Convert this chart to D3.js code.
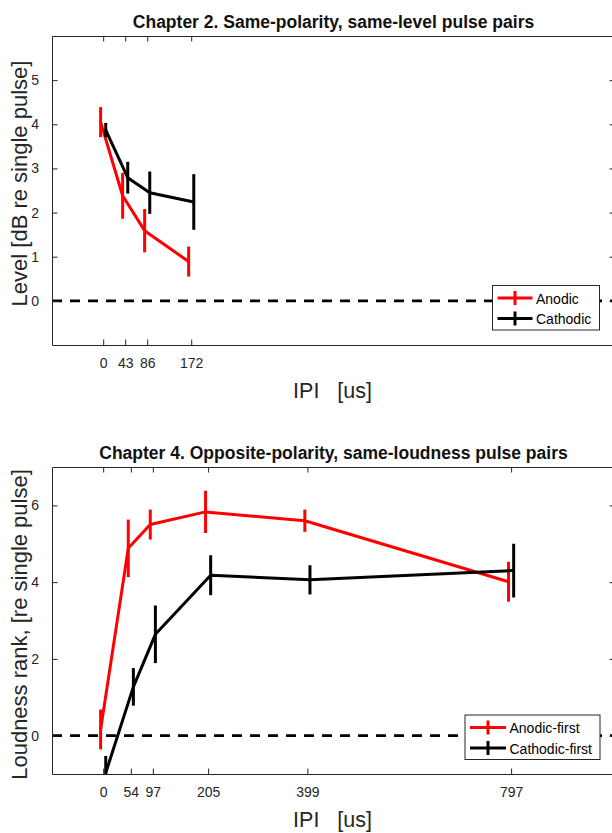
<!DOCTYPE html>
<html>
<head>
<meta charset="utf-8">
<script src="https://cdn.jsdelivr.net/npm/d3@7"></script>
<style>
  html, body { margin: 0; padding: 0; background: #fff; }
  svg { display: block; font-family: "Liberation Sans", Arial, Helvetica, sans-serif; }
</style>
</head>
<body>
<svg id="fig" width="612" height="833"></svg>
<script>
// Chapter 2: same-polarity, same-level pulse pairs
const ipiCh2 = [0, 43, 86, 172];
const ch2Anodic = [4.05, 2.38, 1.59, 0.89];
const ch2AnodicErr = [0.34, 0.52, 0.49, 0.34];
const ch2Cathodic = [3.87, 2.79, 2.45, 2.24];
const ch2CathodicErr = [0.16, 0.36, 0.48, 0.63];
const ch2YTicks = [0, 1, 2, 3, 4, 5];

// Chapter 4: opposite-polarity, same-loudness pulse pairs
const ipiCh4 = [0, 54, 97, 205, 399, 797];
const ch4Anodic = [0.16, 4.88, 5.50, 5.83, 5.60, 4.01];
const ch4AnodicErr = [0.52, 0.75, 0.39, 0.55, 0.29, 0.52];
const ch4Cathodic = [-0.97, 1.27, 2.64, 4.18, 4.06, 4.30];
const ch4CathodicErr = [0.44, 0.49, 0.75, 0.52, 0.38, 0.70];
const ch4YTicks = [0, 2, 4, 6];

// small horizontal jitter (us) so the two series' error bars don't overlap
const jitter = { red: -5, black: 5 };

const svg = d3.select("#fig");
const axisColor = "#262626";
const left = 52, right = 615;

function panel(cfg) {
  const g = svg.append("g");
  const x = d3.scaleLinear().domain([-100, 1000]).range([left, right]);
  const y = d3.scaleLinear().domain(cfg.yDomain).range([cfg.bottom, cfg.top]);
  const clipId = "clip-" + cfg.id;

  g.append("clipPath").attr("id", clipId)
    .append("rect").attr("x", left).attr("y", cfg.top)
    .attr("width", right - left).attr("height", cfg.bottom - cfg.top);

  // title
  g.append("text")
    .attr("x", (left + right) / 2).attr("y", cfg.top - 8)
    .attr("text-anchor", "middle")
    .style("font-weight", "bold").style("font-size", "17.5px").style("fill", "#111")
    .text(cfg.title);

  const plot = g.append("g").attr("clip-path", `url(#${clipId})`);

  // zero reference line
  plot.append("line")
    .attr("x1", left).attr("x2", right)
    .attr("y1", y(0)).attr("y2", y(0))
    .attr("stroke", "#000").attr("stroke-width", 2.6)
    .attr("stroke-dasharray", "10,8");

  const line = d3.line().x(d => x(d.ipi)).y(d => y(d.v));

  cfg.series.forEach(s => {
    const pts = cfg.ipi.map((ipi, i) => ({ ipi: ipi + s.dx, v: s.values[i], e: s.err[i] }));
    plot.append("path").datum(pts)
      .attr("d", line).attr("fill", "none")
      .attr("stroke", s.color).attr("stroke-width", 3)
      .attr("stroke-linejoin", "round");
    plot.selectAll(null).data(pts).enter().append("line")
      .attr("x1", d => x(d.ipi)).attr("x2", d => x(d.ipi))
      .attr("y1", d => y(d.v - d.e)).attr("y2", d => y(d.v + d.e))
      .attr("stroke", s.color).attr("stroke-width", 3);
  });

  // axes box with inward ticks on all four sides
  const tickLen = 5.5;
  const fmt = d3.format("d");
  const axB = g.append("g").attr("transform", `translate(0,${cfg.bottom})`)
    .call(d3.axisBottom(x).tickValues(cfg.ipi).tickFormat(fmt).tickSizeInner(-tickLen).tickSizeOuter(0).tickPadding(13));
  const axT = g.append("g").attr("transform", `translate(0,${cfg.top})`)
    .call(d3.axisTop(x).tickValues(cfg.ipi).tickSizeInner(-tickLen).tickSizeOuter(0).tickFormat(""));
  const axL = g.append("g").attr("transform", `translate(${left},0)`)
    .call(d3.axisLeft(y).tickValues(cfg.yTicks).tickFormat(fmt).tickSizeInner(-tickLen).tickSizeOuter(0).tickPadding(13));
  const axR = g.append("g").attr("transform", `translate(${right},0)`)
    .call(d3.axisRight(y).tickValues(cfg.yTicks).tickSizeInner(-tickLen).tickSizeOuter(0).tickFormat(""));
  [axB, axT, axL, axR].forEach(a => {
    a.select(".domain").attr("stroke", axisColor).attr("stroke-width", 1);
    a.selectAll(".tick line").attr("stroke", axisColor).attr("stroke-width", 1);
    a.selectAll(".tick text").attr("fill", axisColor)
      .style("font-size", "14px").style("font-family", "Liberation Sans, Arial, sans-serif");
  });

  // axis labels
  g.append("text")
    .attr("x", (left + right) / 2 - 1).attr("y", cfg.bottom + 53)
    .attr("text-anchor", "middle").style("font-size", "21.5px").style("fill", axisColor)
    .style("white-space", "pre").attr("xml:space", "preserve")
    .text("IPI   [us]");
  g.append("text")
    .attr("transform", `translate(26.5,${(cfg.top + cfg.bottom) / 2 + cfg.yLabelShift}) rotate(-90)`)
    .attr("text-anchor", "middle").style("font-size", "22px").style("fill", axisColor)
    .text(cfg.yLabel);

  // legend
  const L = cfg.legend;
  const lg = g.append("g");
  lg.append("rect")
    .attr("x", L.x).attr("y", L.y).attr("width", L.w).attr("height", L.h)
    .attr("fill", "#fff").attr("stroke", axisColor).attr("stroke-width", 1);
  cfg.series.forEach((s, i) => {
    const cy = L.y + L.row0 + i * L.rowGap;
    const x1 = L.x + 5, x2 = L.x + 5 + L.sample;
    lg.append("line").attr("x1", x1).attr("x2", x2).attr("y1", cy).attr("y2", cy)
      .attr("stroke", s.color).attr("stroke-width", 3);
    lg.append("line").attr("x1", (x1 + x2) / 2).attr("x2", (x1 + x2) / 2)
      .attr("y1", cy - 7).attr("y2", cy + 7)
      .attr("stroke", s.color).attr("stroke-width", 3);
    lg.append("text").attr("x", x2 + 3.5).attr("y", cy + 5.5)
      .style("font-size", "14px").style("fill", "#000")
      .text(s.name);
  });
}

panel({
  id: "ch2",
  title: "Chapter 2. Same-polarity, same-level pulse pairs",
  top: 36, bottom: 345, yDomain: [-1, 6], yTicks: ch2YTicks,
  ipi: ipiCh2,
  yLabel: "Level [dB re single pulse]", yLabelShift: -7,
  series: [
    { name: "Anodic", color: "#ff0000", values: ch2Anodic, err: ch2AnodicErr, dx: jitter.red },
    { name: "Cathodic", color: "#000000", values: ch2Cathodic, err: ch2CathodicErr, dx: jitter.black }
  ],
  legend: { x: 492.5, y: 285.5, w: 107, h: 44.5, row0: 12.5, rowGap: 20.5, sample: 35 }
});

panel({
  id: "ch4",
  title: "Chapter 4. Opposite-polarity, same-loudness pulse pairs",
  top: 467, bottom: 774, yDomain: [-1, 7], yTicks: ch4YTicks,
  ipi: ipiCh4,
  yLabel: "Loudness rank, [re single pulse]", yLabelShift: 4,
  series: [
    { name: "Anodic-first", color: "#ff0000", values: ch4Anodic, err: ch4AnodicErr, dx: jitter.red },
    { name: "Cathodic-first", color: "#000000", values: ch4Cathodic, err: ch4CathodicErr, dx: jitter.black }
  ],
  legend: { x: 465, y: 715, w: 135, h: 44.5, row0: 12.5, rowGap: 20.5, sample: 36 }
});
</script>
</body>
</html>
